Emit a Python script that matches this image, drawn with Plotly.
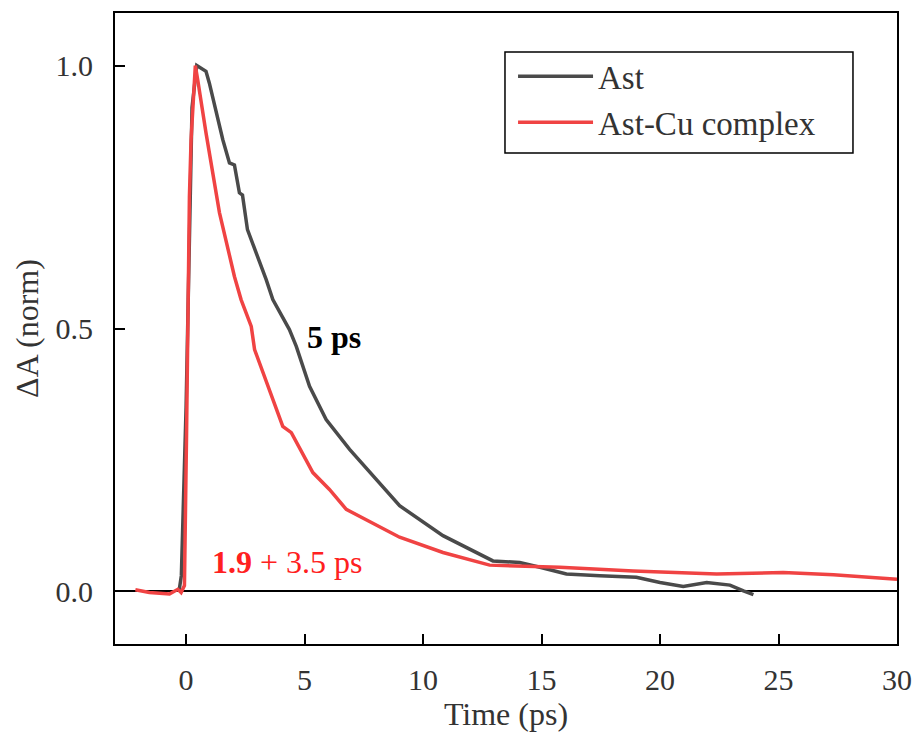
import plotly.graph_objects as go

# Ast (pristine) kinetic trace
ast_t = [-0.3, -0.2, 0.0, 0.1, 0.25, 0.45, 0.7, 0.84, 0.98, 1.27, 1.55, 1.83, 2.04, 2.25, 2.38,
         2.59, 2.96, 3.38, 3.66, 4.36, 4.65, 5.21, 5.91, 6.9, 9.01, 10.84, 12.95, 14.08, 14.93,
         16.05, 17.46, 19.0, 20.0, 20.98, 21.97, 22.95, 23.52, 23.94]
ast_y = [0.0, 0.03, 0.35, 0.6, 0.92, 1.0, 0.992, 0.989, 0.967, 0.91, 0.859, 0.815, 0.811, 0.758, 0.754,
         0.688, 0.644, 0.593, 0.555, 0.498, 0.466, 0.39, 0.327, 0.27, 0.163, 0.106, 0.058, 0.055, 0.046,
         0.033, 0.030, 0.027, 0.017, 0.0095, 0.017, 0.012, 0.001, -0.006]

# Ast-Cu complex kinetic trace
cu_t = [-2.14, -1.55, -0.7, -0.35, -0.21, -0.07, 0.02, 0.07, 0.14, 0.21, 0.39, 0.49, 0.84, 1.41, 2.04,
        2.32, 2.75, 2.89, 3.52, 4.08, 4.44, 5.35, 6.05, 6.76, 9.01, 10.84, 12.81, 14.93, 15.77,
        18.87, 22.39, 25.2, 27.32, 30.0]
cu_y = [0.003, -0.002, -0.005, 0.004, -0.002, 0.011, 0.3, 0.555, 0.75, 0.859, 1.0, 0.973, 0.872, 0.72, 0.599,
        0.555, 0.504, 0.46, 0.384, 0.314, 0.302, 0.226, 0.194, 0.156, 0.103, 0.074, 0.05, 0.047, 0.046,
        0.039, 0.033, 0.036, 0.0315, 0.023]

series_names = ["Ast", "Ast-Cu complex"]
x_ticks = [0, 5, 10, 15, 20, 25, 30]
y_ticks = [0.0, 0.5, 1.0]
y_tick_labels = ["0.0", "0.5", "1.0"]

FONT = "Liberation Serif"
FONT_TICK = "Times New Roman"
FONT_TITLE = "serif"
GRAY = "#4a4a4a"
RED = "#f04343"

fig = go.Figure()
fig.add_trace(go.Scatter(x=ast_t, y=ast_y, mode="lines", name=series_names[0],
                         line=dict(color=GRAY, width=3.5)))
fig.add_trace(go.Scatter(x=cu_t, y=cu_y, mode="lines", name=series_names[1],
                         line=dict(color=RED, width=3.5)))

fig.add_annotation(x=5.0, y=0.483, xref="x", yref="y", text="<b>5 ps</b>", showarrow=False,
                   xanchor="left", yanchor="middle", font=dict(family=FONT, size=32, color="black"))
fig.add_annotation(x=0.99, y=0.056, xref="x", yref="y", text="<b>1.9</b> + 3.5 ps", showarrow=False,
                   xanchor="left", yanchor="middle", font=dict(family=FONT, size=32, color="#ff2020"))

# legend frame
fig.add_shape(type="rect", xref="paper", yref="paper", x0=0.4987, x1=0.9437, y0=0.778, y1=0.938,
              line=dict(color="black", width=1.5), fillcolor="rgba(0,0,0,0)", layer="above")

axis_common = dict(showline=True, linecolor="black", linewidth=2, mirror=True,
                   ticks="inside", ticklen=10, tickwidth=2, tickcolor="black",
                   showgrid=False, automargin=False,
                   tickfont=dict(family=FONT_TICK, size=30, color="#333333"))

fig.update_xaxes(range=[-3, 30], tickvals=x_ticks, zeroline=False,
                 title=dict(text="Time (ps)", font=dict(family=FONT_TITLE, size=32, color="#333333"), standoff=4),
                 ticklabelstandoff=8, **axis_common)
fig.update_yaxes(range=[-0.1, 1.1], tickvals=y_ticks, ticktext=y_tick_labels,
                 zeroline=True, zerolinecolor="black", zerolinewidth=2,
                 title=dict(text="ΔA (norm)", font=dict(family=FONT_TITLE, size=32, color="#333333"), standoff=7),
                 ticklabelstandoff=14, **axis_common)

fig.update_layout(
    width=916, height=740,
    margin=dict(l=115, r=19, t=13, b=96),
    paper_bgcolor="white", plot_bgcolor="white",
    showlegend=True,
    legend=dict(x=0.509, y=0.944, xanchor="left", yanchor="top",
                borderwidth=0, bgcolor="rgba(0,0,0,0)",
                font=dict(family=FONT, size=33, color="#333333"),
                itemwidth=75, tracegroupgap=0),
)

fig.write_html("out.html", config={"displayModeBar": False},
               post_script="document.body.style.margin='0px';")
